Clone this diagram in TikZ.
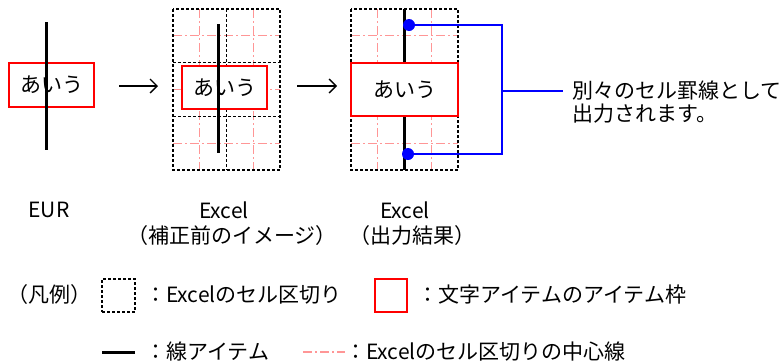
\documentclass[tikz,border=0pt]{standalone}
\usepackage{fontspec}
\setmainfont{Noto Sans CJK JP}
\usepackage{tikz}
\usetikzlibrary{arrows.meta, positioning, calc}
\definecolor{rojoMarco}{RGB}{255, 0, 0}
\definecolor{rosaCentro}{RGB}{255, 150, 150}
\definecolor{azulNota}{RGB}{0, 0, 255}

% celdas de Excel: 2 columnas x 3 filas, esquina superior izquierda en (#1,#2)
\newcommand{\rejilla}[2]{%
  \foreach \c in {0,1}
    \draw[centro] ({#1+26.75+53.5*\c},#2) -- ++(0,161);
  \foreach \r in {0,1,2}
    \draw[centro] (#1,{#2+26.8+53.67*\r}) -- ++(107,0);
  \draw[corte] (#1,#2) rectangle ++(107,161);
  \draw[corte] ({#1+53.5},#2) -- ++(0,161);
  \foreach \r in {1,2}
    \draw[corte] (#1,{#2+53.67*\r}) -- ++(107,0);
}

\begin{document}
\begin{tikzpicture}[x=1pt, y=-1pt,
    marco/.style={rectangle, draw=rojoMarco, line width=1.8pt, fill=white, inner sep=0pt, font=\fontsize{21}{24}\selectfont},
    corte/.style={draw=black, line width=1.3pt, dash pattern=on 3pt off 2pt},
    centro/.style={draw=rosaCentro, line width=1.1pt, dash pattern=on 9pt off 3pt on 2pt off 3pt},
    linea/.style={draw=black, line width=3pt},
    flecha/.style={-{Straight Barb[length=7pt, width=14pt]}, line width=1.3pt},
    nota/.style={draw=azulNota, line width=1.5pt},
    punto/.style={circle, fill=azulNota, inner sep=0pt, minimum size=12pt},
    texto/.style={inner sep=0pt, font=\fontsize{21}{23}\selectfont},
    leyenda/.style={texto, anchor=west}]

    \useasboundingbox (0,0) rectangle (784,362);

    % EUR
    \node[marco, minimum width=85pt, minimum height=44pt] (eur) at (51.5,85) {あいう};
    \draw[linea] (46,22) -- (46,150);

    \coordinate (f1a) at (119,86);
    \coordinate (f1b) at (158,86);
    \draw[flecha] (f1a) -- (f1b);

    % Excel, antes de corregir
    \rejilla{173}{9}
    \node[marco, minimum width=85pt, minimum height=43pt] (antes) at (224.5,87.5) {あいう};
    \draw[linea] (218,24) -- (218,153);

    \coordinate (f2a) at (297,86);
    \coordinate (f2b) at (337,86);
    \draw[flecha] (f2a) -- (f2b);

    % Excel, resultado
    \rejilla{351}{9}
    \draw[linea] (404,9) -- (404,170);
    \node[marco, minimum width=107pt, minimum height=53pt] (resultado) at (404.5,89.5) {あいう};

    \node[punto] (p1) at (409,25) {};
    \node[punto] (p2) at (408,154) {};
    \coordinate (llave) at (502,91);
    \draw[nota] (p1) -| (llave) |- (p2);

    \node[texto, anchor=north west, align=left] (aviso) at (572,81) {別々のセル罫線として\\出力されます。};
    \draw[nota] (llave) -- ([xshift=-9pt]llave -| aviso.west);

    % rotulos
    \node[texto] (lEur) at (49,210) {EUR};
    \node[texto] (lAntes) at (224,210) {Excel};
    \node[texto] (lAntes2) at (232,236) {（補正前のイメージ）};
    \node[texto] (lRes) at (405,210) {Excel};
    \node[texto] (lRes2) at (412,236) {（出力結果）};

    % leyenda
    \node[texto] (ley) at (50,295) {（凡例）};
    \node[corte, minimum size=33pt, inner sep=0pt] (kCorte) at (118.5,295.5) {};
    \node[leyenda] (tCorte) at (145,295) {：Excelのセル区切り};
    \node[marco, minimum width=32pt, minimum height=33pt] (kMarco) at (391,295.5) {};
    \node[leyenda] (tMarco) at (417,295) {：文字アイテムのアイテム枠};
    \draw[linea] (102,352) -- (135,352);
    \node[leyenda] (tLinea) at (145,352) {：線アイテム};
    \draw[centro] (303,352) -- (345,352);
    \node[leyenda] (tCentro) at (345,352) {：Excelのセル区切りの中心線};
\end{tikzpicture}
\end{document}
